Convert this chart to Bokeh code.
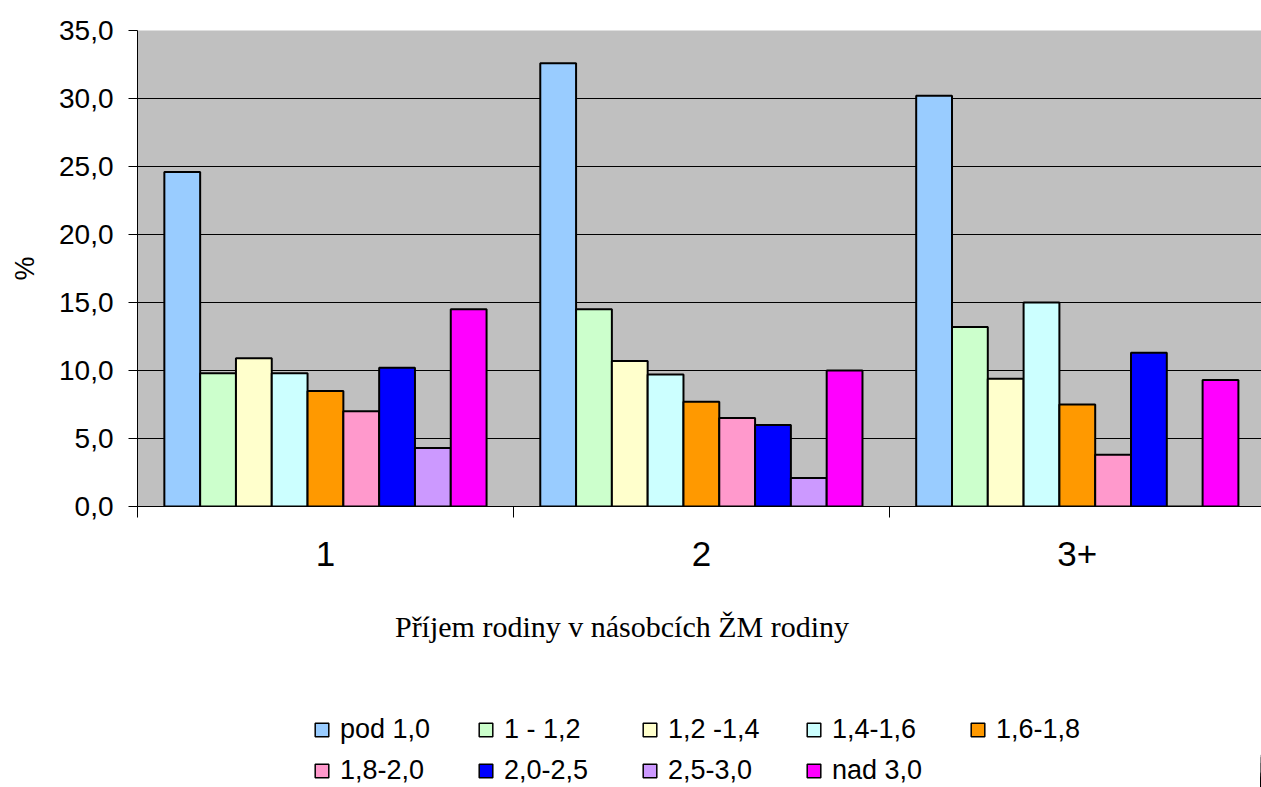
import numpy as np
from bokeh.plotting import figure
from bokeh.layouts import column
from bokeh.models import (ColumnDataSource, Range1d, FixedTicker, Legend, LegendItem,
                          Label)
from bokeh.transform import dodge
from bokeh.embed import file_html
from bokeh.resources import INLINE

# ---- data ----
categories = ["1", "2", "3+"]
series_names = ["pod 1,0", "1 - 1,2", "1,2 -1,4", "1,4-1,6", "1,6-1,8",
                "1,8-2,0", "2,0-2,5", "2,5-3,0", "nad 3,0"]
pod_1_0 = [24.6, 32.6, 30.2]
s_1_12 = [9.8, 14.5, 13.2]
s_12_14 = [10.9, 10.7, 9.4]
s_14_16 = [9.8, 9.7, 15.0]
s_16_18 = [8.5, 7.7, 7.5]
s_18_20 = [7.0, 6.5, 3.8]
s_20_25 = [10.2, 6.0, 11.3]
s_25_30 = [4.3, 2.1, 0.0]
nad_3_0 = [14.5, 10.0, 9.3]
series_values = [pod_1_0, s_1_12, s_12_14, s_14_16, s_16_18,
                 s_18_20, s_20_25, s_25_30, nad_3_0]
colors = ["#99CCFF", "#CCFFCC", "#FFFFCC", "#CCFFFF", "#FF9900",
          "#FF99CC", "#0000FF", "#CC99FF", "#FF00FF"]
y_ticks = [0, 5, 10, 15, 20, 25, 30, 35]
x_title = "Příjem rodiny v násobcích ŽM rodiny"
y_title = "%"

# ---- main chart ----
n_cat = len(categories)
n_ser = len(series_names)
bar_w = 1.0 / (n_ser + 1.5)          # Excel gap width 150 %

centers = np.arange(n_cat) + 0.5
data = {"x": centers}
for j, vals in enumerate(series_values):
    data[f"s{j}"] = vals
source = ColumnDataSource(data)

FRAME_W = 1124
p = figure(frame_width=FRAME_W, frame_height=476,
           x_range=Range1d(0, 2.99), y_range=Range1d(0, 35),
           output_backend="svg", toolbar_location=None,
           min_border_left=137, min_border_top=30, min_border_right=0,
           min_border_bottom=80,
           background_fill_color="#C0C0C0", border_fill_color="white",
           outline_line_alpha=0)

p.xgrid.visible = False
p.ygrid.ticker = FixedTicker(ticks=y_ticks[1:-1])
p.ygrid.grid_line_color = "black"
p.ygrid.grid_line_width = 1

for j in range(n_ser):
    off = (j - (n_ser - 1) / 2) * bar_w
    p.vbar(x=dodge("x", off), top=f"s{j}", width=bar_w, bottom=0,
           source=source, fill_color=colors[j], line_color="black",
           line_width=2)

# y axis
yax = p.yaxis[0]
yax.ticker = FixedTicker(ticks=y_ticks, minor_ticks=[])
yax.major_label_overrides = {t: f"{t:.1f}".replace(".", ",") for t in y_ticks}
yax.major_tick_out = 9
yax.major_tick_in = 0
yax.major_tick_line_color = "black"
yax.axis_line_color = "black"
yax.major_label_standoff = 15
yax.major_label_text_font = "Liberation Sans"
yax.major_label_text_font_size = "28px"
yax.major_label_text_color = "black"
yax.axis_label = y_title
yax.axis_label_text_font = "Liberation Sans"
yax.axis_label_text_font_size = "27px"
yax.axis_label_text_font_style = "normal"
yax.axis_label_text_color = "black"
yax.axis_label_standoff = 16

# x axis
xax = p.xaxis[0]
xax.ticker = FixedTicker(ticks=list(centers), minor_ticks=list(range(n_cat + 1)))
xax.major_label_overrides = {float(c): lab for c, lab in zip(centers, categories)}
xax.major_tick_out = 11
xax.major_tick_in = 0
xax.major_tick_line_alpha = 0
xax.minor_tick_out = 11
xax.minor_tick_in = 0
xax.minor_tick_line_color = "black"
xax.axis_line_color = "black"
xax.major_label_standoff = 24
xax.major_label_text_font = "Liberation Sans"
xax.major_label_text_font_size = "35px"
xax.major_label_text_color = "black"

# ---- lower strip: axis title and legend ----
LOW_H = 201
q = figure(frame_width=FRAME_W, frame_height=LOW_H,
           x_range=Range1d(0, FRAME_W), y_range=Range1d(0, LOW_H),
           output_backend="svg", toolbar_location=None,
           x_axis_location=None, y_axis_location=None,
           min_border_left=137, min_border_top=0, min_border_right=0,
           min_border_bottom=0, outline_line_alpha=0,
           background_fill_color="white", border_fill_color="white")
q.grid.visible = False
# legend keys only: their bars sit far to the right, outside this strip's view
q.extra_x_ranges = {"hidden": Range1d(-1001, -1000)}

legend_renderers = []
for j in range(n_ser):
    r = q.vbar(x="x", top=f"s{j}", width=bar_w, bottom=0, source=source,
               fill_color=colors[j], line_color="black", line_width=1.5,
               x_range_name="hidden")
    legend_renderers.append(r)

q.add_layout(Label(x=484.5, y=161, text=x_title, text_align="center",
                   text_baseline="alphabetic", text_font="Liberation Serif",
                   text_font_size="30px", text_color="black"))

legend = Legend(
    items=[LegendItem(label=n, renderers=[r])
           for n, r in zip(series_names, legend_renderers)],
    orientation="horizontal", nrows=2, location=(176, 1),
    glyph_width=17, glyph_height=17, label_standoff=10, label_width=127,
    label_height=30, spacing=10, padding=0, margin=0,
    label_text_font="Liberation Sans", label_text_font_size="27px",
    label_text_color="black",
    border_line_alpha=0, background_fill_alpha=0,
)
q.add_layout(legend, "center")

page = column(p, q, spacing=0)
open("out.html", "w").write(file_html(page, INLINE))
